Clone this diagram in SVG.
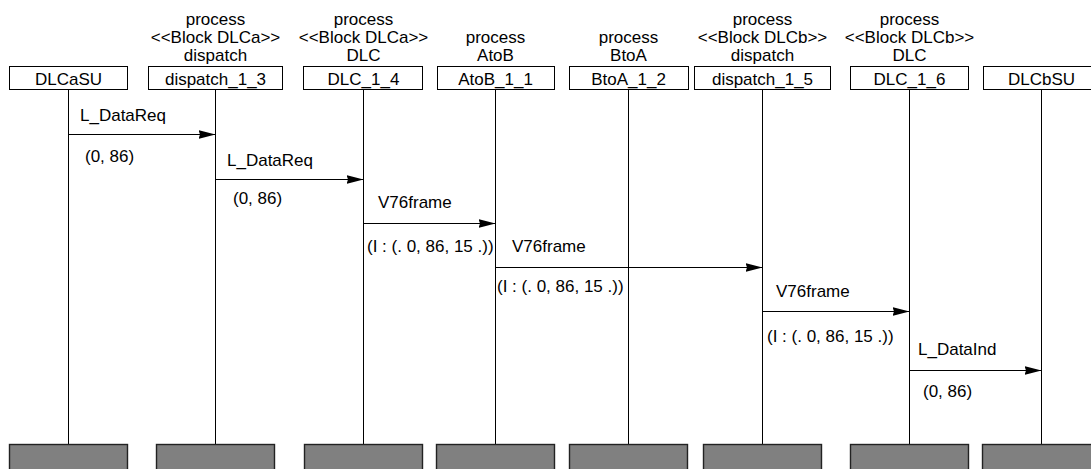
<svg xmlns="http://www.w3.org/2000/svg" width="1091" height="469" viewBox="0 0 1091 469">
<style>
text{font-family:"Liberation Sans",Arial,sans-serif;font-size:17px;fill:#000}
.c{text-anchor:middle}
.box{fill:#fff;stroke:#000;stroke-width:1}
.end{fill:#808080;stroke:#222;stroke-width:1.4}
.life{stroke:#000;stroke-width:1;fill:none}
.msg{stroke:#000;stroke-width:1;fill:none;marker-end:url(#ah)}
</style>
<defs>
<marker id="ah" markerUnits="userSpaceOnUse" markerWidth="20" markerHeight="12" refX="17" refY="5" orient="auto">
<polygon points="0,0.5 17,5 0,9.5 1.5,5" fill="#000"/>
</marker>
</defs>
<rect width="1091" height="469" fill="#fff"/>

<g id="DLCaSU">
<line class="life" x1="68.5" y1="90" x2="68.5" y2="444"/>
<rect class="box" x="9.5" y="66.5" width="118" height="23"/>
<text class="c" x="68.5" y="85">DLCaSU</text>
<rect class="end" x="9.5" y="444.5" width="118" height="30"/>
</g>

<g id="dispatch_1_3">
<text class="c" x="215.5" y="25">process</text>
<text class="c" x="215.5" y="43">&lt;&lt;Block DLCa&gt;&gt;</text>
<text class="c" x="215.5" y="61">dispatch</text>
<line class="life" x1="215.5" y1="90" x2="215.5" y2="444"/>
<rect class="box" x="148.5" y="66.5" width="134" height="23"/>
<text class="c" x="215.5" y="85">dispatch_1_3</text>
<rect class="end" x="156.5" y="444.5" width="118" height="30"/>
</g>

<g id="DLC_1_4">
<text class="c" x="363.5" y="25">process</text>
<text class="c" x="363.5" y="43">&lt;&lt;Block DLCa&gt;&gt;</text>
<text class="c" x="363.5" y="61">DLC</text>
<line class="life" x1="363.5" y1="90" x2="363.5" y2="444"/>
<rect class="box" x="303.5" y="66.5" width="119" height="23"/>
<text class="c" x="363.5" y="85">DLC_1_4</text>
<rect class="end" x="304.5" y="444.5" width="118" height="30"/>
</g>

<g id="AtoB_1_1">
<text class="c" x="495.5" y="43">process</text>
<text class="c" x="495.5" y="61">AtoB</text>
<line class="life" x1="495.5" y1="90" x2="495.5" y2="444"/>
<rect class="box" x="437.5" y="66.5" width="117" height="23"/>
<text class="c" x="495.5" y="85">AtoB_1_1</text>
<rect class="end" x="436.5" y="444.5" width="118" height="30"/>
</g>

<g id="BtoA_1_2">
<text class="c" x="628.5" y="43">process</text>
<text class="c" x="628.5" y="61">BtoA</text>
<line class="life" x1="628.5" y1="90" x2="628.5" y2="444"/>
<rect class="box" x="569.5" y="66.5" width="119" height="23"/>
<text class="c" x="628.5" y="85">BtoA_1_2</text>
<rect class="end" x="569.5" y="444.5" width="118" height="30"/>
</g>

<g id="dispatch_1_5">
<text class="c" x="762.5" y="25">process</text>
<text class="c" x="762.5" y="43">&lt;&lt;Block DLCb&gt;&gt;</text>
<text class="c" x="762.5" y="61">dispatch</text>
<line class="life" x1="762.5" y1="90" x2="762.5" y2="444"/>
<rect class="box" x="694.5" y="66.5" width="136" height="23"/>
<text class="c" x="762.5" y="85">dispatch_1_5</text>
<rect class="end" x="703.5" y="444.5" width="118" height="30"/>
</g>

<g id="DLC_1_6">
<text class="c" x="909.5" y="25">process</text>
<text class="c" x="909.5" y="43">&lt;&lt;Block DLCb&gt;&gt;</text>
<text class="c" x="909.5" y="61">DLC</text>
<line class="life" x1="909.5" y1="90" x2="909.5" y2="444"/>
<rect class="box" x="850.5" y="66.5" width="118" height="23"/>
<text class="c" x="909.5" y="85">DLC_1_6</text>
<rect class="end" x="850.5" y="444.5" width="118" height="30"/>
</g>

<g id="DLCbSU">
<line class="life" x1="1041.5" y1="90" x2="1041.5" y2="444"/>
<rect class="box" x="983.5" y="66.5" width="118" height="23"/>
<text class="c" x="1041.5" y="85">DLCbSU</text>
<rect class="end" x="982.5" y="444.5" width="118" height="30"/>
</g>

<g id="connectors">
<line class="msg" x1="68.5" y1="134.5" x2="215.5" y2="134.5"/>
<text x="80" y="121">L_DataReq</text>
<text x="85" y="162">(0, 86)</text>

<line class="msg" x1="215.5" y1="179.5" x2="363.5" y2="179.5"/>
<text x="227" y="166">L_DataReq</text>
<text x="233" y="204">(0, 86)</text>

<line class="msg" x1="363.5" y1="223.5" x2="495.5" y2="223.5"/>
<text x="378" y="208">V76frame</text>
<text x="367" y="252">(I : (. 0, 86, 15 .))</text>

<line class="msg" x1="495.5" y1="267.5" x2="762.5" y2="267.5"/>
<text x="512" y="252">V76frame</text>
<text x="497" y="292">(I : (. 0, 86, 15 .))</text>

<line class="msg" x1="762.5" y1="311.5" x2="909.5" y2="311.5"/>
<text x="776" y="297">V76frame</text>
<text x="767" y="342">(I : (. 0, 86, 15 .))</text>

<line class="msg" x1="909.5" y1="370.5" x2="1041.5" y2="370.5"/>
<text x="918" y="355">L_DataInd</text>
<text x="923" y="397">(0, 86)</text>
</g>
</svg>
